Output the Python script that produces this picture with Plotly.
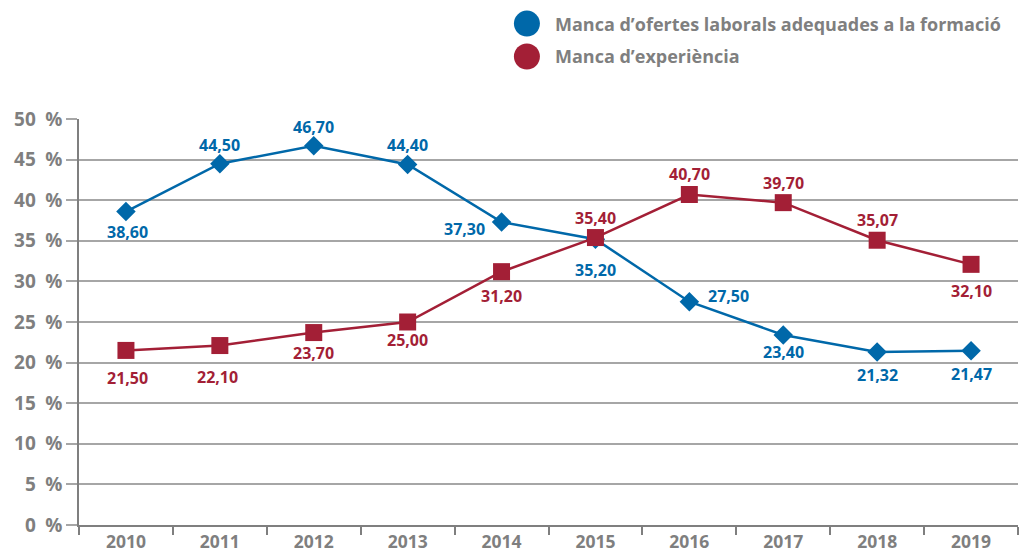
import plotly.graph_objects as go

years = ["2010", "2011", "2012", "2013", "2014", "2015", "2016", "2017", "2018", "2019"]
ofertes = [38.60, 44.50, 46.70, 44.40, 37.30, 35.20, 27.50, 23.40, 21.32, 21.47]
experiencia = [21.50, 22.10, 23.70, 25.00, 31.20, 35.40, 40.70, 39.70, 35.07, 32.10]
serie_noms = ["Manca d\u2019ofertes laborals adequades a la formació", "Manca d\u2019experiència"]

# pixel offsets of each value label relative to its marker
ofertes_dx = [2, 0, 0, 0, -37, 0, 39, 0, 0, 0]
ofertes_dy = [-20, 19, 19, 19, -7, -31, 6, -17, -23, -23]
experiencia_dx = [2, -2, 0, 0, 0, 0, 0, 0, 0, 0]
experiencia_dy = [-28, -31, -20, -18, -24, 20, 21, 20, 20, -27]

BLUE = "#0068a9"
RED = "#a31f36"
GREY = "#7f7f7f"
GRID = "#a6a6a6"
FONT = "Open Sans"


def fmt(v):
    return f"{v:.2f}".replace(".", ",")


fig = go.Figure()
fig.add_trace(go.Scatter(
    x=years, y=ofertes, mode="lines+markers", name=serie_noms[0],
    line=dict(color=BLUE, width=2.5),
    marker=dict(symbol="diamond", size=15, color=BLUE),
    showlegend=False, cliponaxis=False,
))
fig.add_trace(go.Scatter(
    x=years, y=experiencia, mode="lines+markers", name=serie_noms[1],
    line=dict(color=RED, width=2.5),
    marker=dict(symbol="square", size=17, color=RED),
    showlegend=False, cliponaxis=False,
))

# value labels (category axis: position by category index)
for vals, dxs, dys, col in [(ofertes, ofertes_dx, ofertes_dy, BLUE),
                            (experiencia, experiencia_dx, experiencia_dy, RED)]:
    for i, (v, dx, dy) in enumerate(zip(vals, dxs, dys)):
        fig.add_annotation(x=i, y=v, xref="x", yref="y", text=fmt(v), showarrow=False,
                           xshift=dx, yshift=dy, xanchor="center", yanchor="middle",
                           font=dict(family=FONT, size=16, color=col, weight="bold"))

# Legend drawn as circles with labels above the plot
for i, (nom, col) in enumerate(zip(serie_noms, [BLUE, RED])):
    yc = 1.235 - i * 0.081
    fig.add_shape(type="circle", xref="paper", yref="paper",
                  xsizemode="pixel", ysizemode="pixel",
                  xanchor=0.477, yanchor=yc, x0=-13, x1=13, y0=-13, y1=13,
                  fillcolor=col, line=dict(width=0))
    fig.add_annotation(x=0.505, y=yc, xref="paper", yref="paper",
                       xanchor="left", yanchor="middle", showarrow=False,
                       text=nom, font=dict(family=FONT, size=18, color=GREY, weight="bold"))

fig.update_layout(
    width=1021, height=557,
    margin=dict(l=79, r=3, t=119, b=32),
    paper_bgcolor="white", plot_bgcolor="white",
    font=dict(family=FONT, color=GREY),
)
fig.update_xaxes(
    type="category", range=[-0.5, 9.5], tickson="boundaries",
    ticks="outside", ticklen=8, tickcolor=GREY, tickwidth=1.5, showgrid=False,
    showline=True, linecolor=GREY, linewidth=1.5,
    tickfont=dict(family=FONT, size=17.5, color=GREY, weight="bold"),
)
fig.update_yaxes(
    range=[0, 50], dtick=5, ticksuffix="\u2002%",
    ticks="outside", ticklen=11, tickcolor=GRID, tickwidth=1.5,
    showgrid=True, gridcolor=GRID, gridwidth=1.5, zeroline=False,
    showline=True, linecolor=GREY, linewidth=1.5,
    tickfont=dict(family=FONT, size=19, color=GREY, weight="bold"),
)

fig.write_html("out.html")
